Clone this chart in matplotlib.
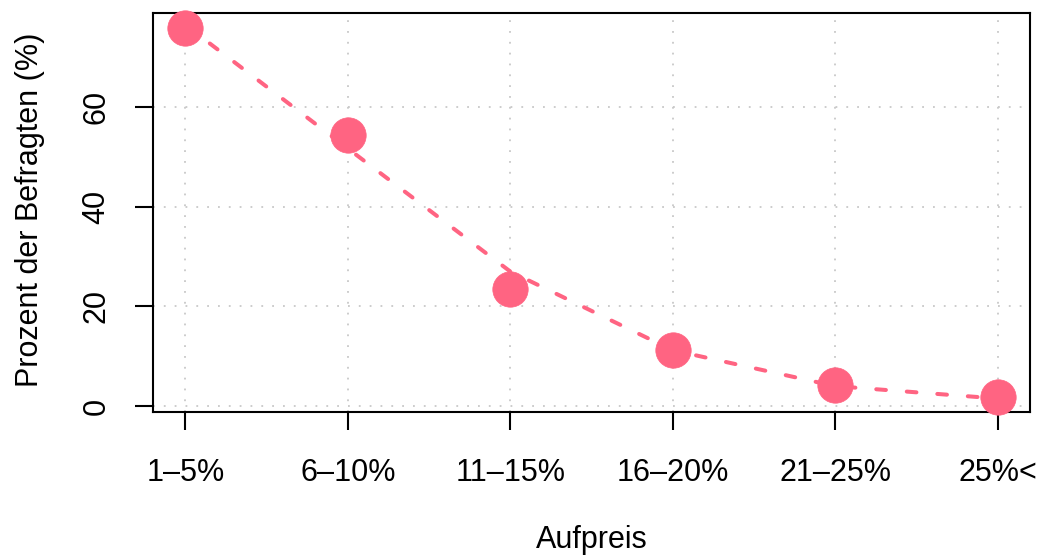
"""Aufpreis-Bereitschaft: Anteil der Befragten je Aufpreisstufe."""

import matplotlib

matplotlib.use("Agg")
import matplotlib.pyplot as plt

# ---------------------------------------------------------------------------
# Data
# ---------------------------------------------------------------------------

categories = ["1\u20135%", "6\u201310%", "11\u201315%", "16\u201320%", "21\u201325%", "25%<"]
positions = [1, 2, 3, 4, 5, 6]
percent = [75.9, 54.4, 23.4, 11.2, 4.2, 1.8]
# fitted curve values at each category (dashed line)
fitted = [76.5, 51.7, 27.0, 11.2, 4.0, 1.5]
y_ticks = [0, 20, 40, 60]

POINT_COLOUR = "#FF6482"

plt.rcParams["font.family"] = ["Liberation Sans", "DejaVu Sans"]

fig = plt.figure(figsize=(10.42, 5.56), dpi=100)
ax = fig.add_axes([0.1468, 0.259, 0.8417, 0.7176])

# grid first so it sits below the data
for x in positions:
    ax.axvline(x, color="#C8C8C8", linestyle=(0, (1, 5)), linewidth=1.3, zorder=0)
for y in y_ticks:
    ax.axhline(y, color="#C8C8C8", linestyle=(0, (1, 5)), linewidth=1.3, zorder=0)

ax.plot(
    positions,
    fitted,
    color=POINT_COLOUR,
    linewidth=2.9,
    dashes=(2.4, 5.2),
    dash_capstyle="round",
    zorder=2,
)
ax.plot(
    positions,
    percent,
    linestyle="none",
    marker="o",
    markersize=25.5,
    markerfacecolor=POINT_COLOUR,
    markeredgecolor=POINT_COLOUR,
    markeredgewidth=0.5,
    zorder=3,
    clip_on=False,
)

ax.set_xlim(0.8, 6.2)
ax.set_ylim(-1.2, 78.9)

ax.set_xticks(positions)
ax.set_xticklabels(categories)
ax.set_yticks(y_ticks)
ax.set_yticklabels([str(v) for v in y_ticks], rotation=90, va="center")

ax.tick_params(
    axis="both", direction="out", length=13, width=1.5, labelsize=22, colors="black"
)
ax.tick_params(axis="x", pad=20)
ax.tick_params(axis="y", pad=17)

for spine in ax.spines.values():
    spine.set_linewidth(1.5)
    spine.set_color("black")

ax.set_xlabel("Aufpreis", fontsize=22)
ax.xaxis.set_label_coords(0.5006, -0.322)
ax.xaxis.label.set_va("center")
ax.set_ylabel("Prozent der Befragten (%)", fontsize=22)
ax.yaxis.set_label_coords(-0.140, 0.506)
ax.yaxis.label.set_va("center")

plt.savefig("out.png", dpi=100)
plt.close()
